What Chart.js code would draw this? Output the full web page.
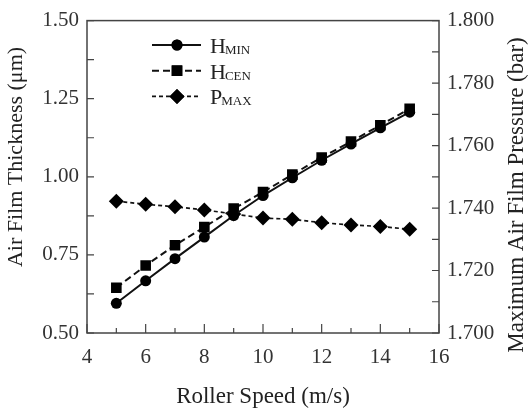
<!DOCTYPE html>
<html>
<head>
<meta charset="utf-8">
<script src="https://cdn.jsdelivr.net/npm/chart.js@4"></script>
<style>
  html, body { margin: 0; padding: 0; background: #fff; }
  #wrap { width: 531px; height: 409px; }
</style>
</head>
<body>
<div id="wrap"><canvas id="chart" width="531" height="409"></canvas></div>
<script>
// ── Data ───────────────────────────────────────────────────
const speeds = [5, 6, 7, 8, 9, 10, 11, 12, 13, 14, 15];
const hMin   = [0.595, 0.667, 0.738, 0.807, 0.876, 0.940, 0.997, 1.053, 1.105, 1.157, 1.207];
const hCen   = [0.645, 0.716, 0.781, 0.839, 0.898, 0.951, 1.007, 1.062, 1.113, 1.165, 1.218];
const pMax   = [1.7422, 1.7412, 1.7404, 1.7394, 1.7381, 1.7368, 1.7364, 1.7353, 1.7346, 1.7341, 1.7332];

const xTicks  = [4, 6, 8, 10, 12, 14, 16];
const yTicks  = ['0.50', '0.75', '1.00', '1.25', '1.50'];
const y1Ticks = ['1.700', '1.720', '1.740', '1.760', '1.780', '1.800'];

const legendItems = [
  { main: 'H', sub: 'MIN' },
  { main: 'H', sub: 'CEN' },
  { main: 'P', sub: 'MAX' },
];

// ── Styles ────────────────────────────────────────────────
const SERIF = '"Liberation Serif", "DejaVu Serif", serif';
const INK   = '#111';
const TEXT  = '#333';
const FRAME = '#444';

const pts = ys => speeds.map((x, i) => ({ x, y: ys[i] }));

// ── Frame, inward ticks, titles, legend ───────────────────
const decor = {
  id: 'decor',
  afterDraw(chart) {
    const { ctx, chartArea: a, scales } = chart;
    const { x, y, y1 } = scales;
    ctx.save();

    // box
    ctx.strokeStyle = FRAME;
    ctx.lineWidth = 1.5;
    ctx.strokeRect(a.left, a.top, a.right - a.left, a.bottom - a.top);

    // x ticks (major every 2, minor every 1)
    ctx.lineWidth = 1.2;
    ctx.beginPath();
    for (let v = xTicks[0]; v <= xTicks[xTicks.length - 1]; v++) {
      const px = x.getPixelForValue(v);
      const len = xTicks.includes(v) ? 9 : 5;
      ctx.moveTo(px, a.bottom);
      ctx.lineTo(px, a.bottom - len);
    }
    // left ticks every 0.125
    for (let v = 0.5; v <= 1.5001; v += 0.125) {
      const py = y.getPixelForValue(v);
      ctx.moveTo(a.left, py);
      ctx.lineTo(a.left + 7, py);
    }
    // right ticks every 0.01
    for (let k = 0; k <= 10; k++) {
      const py = y1.getPixelForValue(1.7 + k * 0.01);
      ctx.moveTo(a.right, py);
      ctx.lineTo(a.right - 7, py);
    }
    ctx.stroke();

    // axis titles
    ctx.fillStyle = '#222';
    ctx.textAlign = 'center';
    ctx.textBaseline = 'middle';
    ctx.font = '23px ' + SERIF;
    ctx.fillText('Roller Speed (m/s)', (a.left + a.right) / 2, 397);

    ctx.font = '22px ' + SERIF;
    ctx.translate(16, 157);
    ctx.rotate(-Math.PI / 2);
    ctx.fillText('Air Film Thickness (\u03bcm)', 0, 0);
    ctx.setTransform(1, 0, 0, 1, 0, 0);

    ctx.font = '23px ' + SERIF;
    ctx.translate(517, 195);
    ctx.rotate(-Math.PI / 2);
    ctx.fillText('Maximum Air Film Pressure (bar)', 0, 0);
    ctx.setTransform(1, 0, 0, 1, 0, 0);

    // legend
    chart.data.datasets.forEach((ds, i) => {
      const ly = 45 + i * 25.7;
      ctx.strokeStyle = ds.borderColor;
      ctx.lineWidth = ds.borderWidth;
      ctx.setLineDash(ds.borderDash || []);
      ctx.beginPath();
      ctx.moveTo(152, ly);
      ctx.lineTo(201, ly);
      ctx.stroke();
      ctx.setLineDash([]);
      ctx.fillStyle = ds.pointBackgroundColor;
      Chart.helpers.drawPoint(ctx, {
        pointStyle: ds.pointStyle, radius: ds.pointRadius, rotation: 0, borderWidth: 0
      }, 177, ly);
      ctx.fill();

      const it = legendItems[i];
      ctx.fillStyle = '#222';
      ctx.textAlign = 'left';
      ctx.textBaseline = 'alphabetic';
      ctx.font = '22px ' + SERIF;
      ctx.fillText(it.main, 210, ly + 8);
      const w = ctx.measureText(it.main).width;
      ctx.font = '13px ' + SERIF;
      ctx.fillText(it.sub, 210 + w - 1, ly + 9);
    });

    ctx.restore();
  }
};

// ── Chart ─────────────────────────────────────────────────
new Chart(document.getElementById('chart'), {
  type: 'line',
  data: {
    datasets: [
      {
        label: 'HMIN', data: pts(hMin), yAxisID: 'y',
        borderColor: INK, borderWidth: 2,
        pointStyle: 'circle', pointRadius: 5.5,
        pointBackgroundColor: '#000', pointBorderColor: '#000', pointBorderWidth: 0,
      },
      {
        label: 'HCEN', data: pts(hCen), yAxisID: 'y',
        borderColor: INK, borderWidth: 2, borderDash: [7, 4],
        pointStyle: 'rect', pointRadius: 7.5,
        pointBackgroundColor: '#000', pointBorderColor: '#000', pointBorderWidth: 0,
      },
      {
        label: 'PMAX', data: pts(pMax), yAxisID: 'y1',
        borderColor: INK, borderWidth: 1.7, borderDash: [4, 3],
        pointStyle: 'rectRot', pointRadius: 7.5,
        pointBackgroundColor: '#000', pointBorderColor: '#000', pointBorderWidth: 0,
      },
    ]
  },
  options: {
    responsive: false,
    animation: false,
    layout: { padding: { top: 14, left: 0, right: 0, bottom: 0 } },
    plugins: { legend: { display: false }, tooltip: { enabled: false } },
    scales: {
      x: {
        type: 'linear', min: xTicks[0], max: xTicks[xTicks.length - 1],
        afterBuildTicks: s => { s.ticks = xTicks.map(v => ({ value: v })); },
        afterFit: s => { s.height = 76; },
        grid: { display: false, drawTicks: false },
        border: { display: false },
        ticks: { color: TEXT, padding: 12, font: { family: SERIF, size: 21 }, callback: v => String(v) },
      },
      y: {
        position: 'left', min: 0.5, max: 1.5,
        afterBuildTicks: s => { s.ticks = yTicks.map(v => ({ value: parseFloat(v) })); },
        afterFit: s => { s.width = 87; },
        grid: { display: false, drawTicks: false },
        border: { display: false },
        ticks: { color: TEXT, padding: 8, font: { family: SERIF, size: 21 }, callback: v => v.toFixed(2) },
      },
      y1: {
        position: 'right', min: 1.7, max: 1.8,
        afterBuildTicks: s => { s.ticks = y1Ticks.map(v => ({ value: parseFloat(v) })); },
        afterFit: s => { s.width = 92; },
        grid: { display: false, drawTicks: false },
        border: { display: false },
        ticks: { color: TEXT, padding: 8, font: { family: SERIF, size: 21 }, callback: v => v.toFixed(3) },
      },
    }
  },
  plugins: [decor]
});
</script>
</body>
</html>
